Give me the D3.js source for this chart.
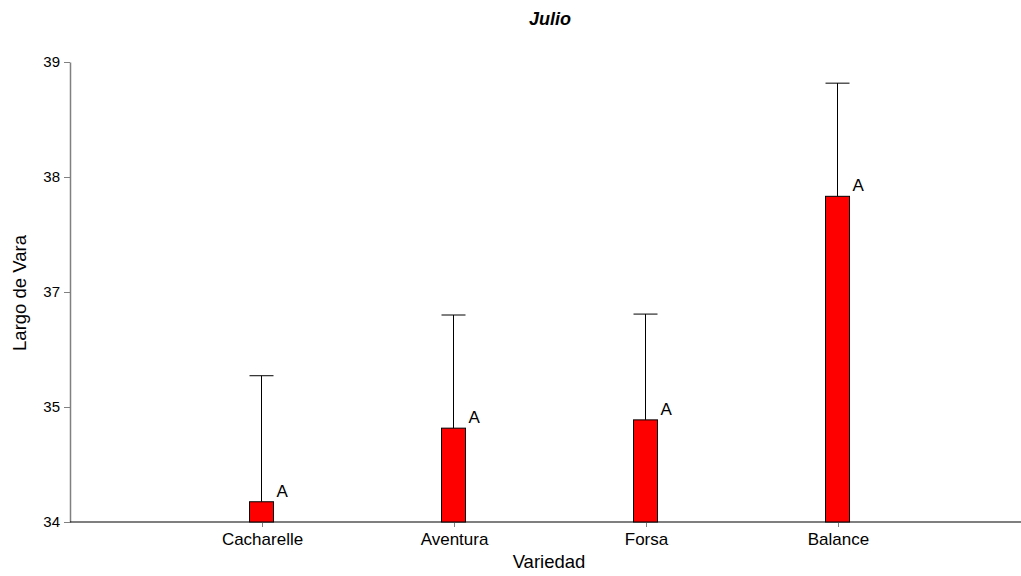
<!DOCTYPE html>
<html><head><meta charset="utf-8">
<script src="https://cdn.jsdelivr.net/npm/d3@7"></script>
<style>body{margin:0;background:#fff}svg{display:block}text{font-family:"Liberation Sans",Arial,sans-serif}</style>
</head><body>
<svg id="c" width="1021" height="576"></svg>
<script>
const categories = ["Cacharelle", "Aventura", "Forsa", "Balance"];
const means = [34.22, 35.02, 35.11, 37.54];
const upper = [35.59, 36.25, 36.26, 38.77];
const letters = ["A", "A", "A", "A"];
const tickValues = [34, 35.25, 36.5, 37.75, 39];
const tickLabels = ["34", "35", "37", "38", "39"];

const svg = d3.select("#c");
const y = d3.scaleLinear().domain([34, 39]).range([522, 62]);
const x = d3.scalePoint().domain(categories).range([70, 1030]).padding(1);
const bw = 24;

// y axis
const ya = svg.append("g").attr("transform", "translate(70,0)")
  .call(d3.axisLeft(y).tickValues(tickValues).tickFormat((d, i) => tickLabels[i]).tickSize(6).tickSizeOuter(0));
ya.select(".domain").attr("stroke", "#808080").attr("stroke-width", 1.5);
ya.selectAll(".tick line").attr("stroke", "#808080");
ya.selectAll(".tick text").attr("font-size", 15).attr("fill", "#000").attr("font-family", "Liberation Sans, Arial, sans-serif").attr("dx", "-1");

// x axis
const xa = svg.append("g").attr("transform", "translate(0,522)")
  .call(d3.axisBottom(x).tickSize(5).tickSizeOuter(0));
xa.select(".domain").attr("d", "M70,0H1021").attr("stroke", "#000").attr("stroke-width", 1.2);
xa.selectAll(".tick line").attr("stroke", "#808080");
xa.selectAll(".tick text").attr("font-size", 17).attr("fill", "#000").attr("y", 23).attr("dy", 0).attr("font-family", "Liberation Sans, Arial, sans-serif");

// error bars
const g = svg.append("g");
categories.forEach((c, i) => {
  const cx = Math.round(x(c)) - 0.5;
  g.append("line").attr("x1", cx).attr("x2", cx).attr("y1", y(means[i])).attr("y2", y(upper[i]))
    .attr("stroke", "#000").attr("stroke-width", 1);
  g.append("line").attr("x1", cx - bw / 2).attr("x2", cx + bw / 2).attr("y1", y(upper[i])).attr("y2", y(upper[i]))
    .attr("stroke", "#000").attr("stroke-width", 1);
  g.append("rect").attr("x", cx - bw / 2).attr("width", bw)
    .attr("y", y(means[i])).attr("height", y(34) - y(means[i]))
    .attr("fill", "#ff0000").attr("stroke", "#000").attr("stroke-width", 1);
  g.append("text").attr("x", cx + bw / 2 + 3).attr("y", y(means[i]) - 5)
    .attr("font-size", 17).text(letters[i]);
});

// titles
svg.append("text").attr("x", 550).attr("y", 25).attr("text-anchor", "middle")
  .attr("font-size", 18).attr("font-weight", "bold").attr("font-style", "italic").text("Julio");
svg.append("text").attr("x", 549).attr("y", 568).attr("text-anchor", "middle")
  .attr("font-size", 18.5).text("Variedad");
svg.append("text").attr("transform", "translate(25.5,293) rotate(-90)").attr("text-anchor", "middle")
  .attr("font-size", 18.5).text("Largo de Vara");
</script>
</body></html>
